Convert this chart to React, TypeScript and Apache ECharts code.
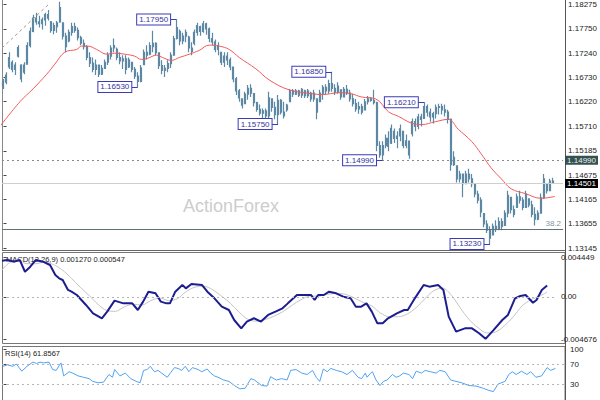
import React, { useEffect, useRef } from 'react';
import * as echarts from 'echarts';

// OHLC bars: [open, close, low, high]
const bars: number[][] = [
  [1.1655,1.1663,1.1649,1.1670],[1.1663,1.1678,1.1659,1.1684],[1.1695,1.1715,1.1691,1.1726],[1.1705,1.1690,1.1684,1.1709],
  [1.1690,1.1699,1.1678,1.1705],[1.1718,1.1736,1.1715,1.1741],[1.1699,1.1670,1.1663,1.1701],[1.1684,1.1699,1.1680,1.1705],
  [1.1701,1.1740,1.1701,1.1747],[1.1740,1.1770,1.1736,1.1778],[1.1770,1.1798,1.1768,1.1805],[1.1798,1.1790,1.1784,1.1809],
  [1.1790,1.1786,1.1778,1.1803],[1.1786,1.1794,1.1774,1.1799],[1.1794,1.1805,1.1782,1.1809],[1.1805,1.1798,1.1793,1.1815],
  [1.1790,1.1772,1.1767,1.1792],[1.1772,1.1782,1.1764,1.1788],[1.1780,1.1788,1.1767,1.1792],[1.1790,1.1820,1.1788,1.1832],
  [1.1788,1.1760,1.1753,1.1788],[1.1760,1.1738,1.1726,1.1767],[1.1750,1.1768,1.1747,1.1774],[1.1768,1.1780,1.1761,1.1788],
  [1.1780,1.1772,1.1767,1.1788],[1.1772,1.1757,1.1751,1.1778],[1.1757,1.1745,1.1741,1.1761],[1.1745,1.1738,1.1732,1.1753],
  [1.1738,1.1715,1.1709,1.1741],[1.1715,1.1703,1.1695,1.1726],[1.1703,1.1690,1.1684,1.1715],[1.1690,1.1699,1.1678,1.1711],
  [1.1699,1.1680,1.1674,1.1699],[1.1680,1.1692,1.1678,1.1699],[1.1692,1.1705,1.1691,1.1711],[1.1705,1.1720,1.1699,1.1726],
  [1.1718,1.1735,1.1711,1.1741],[1.1735,1.1740,1.1726,1.1755],[1.1732,1.1715,1.1709,1.1736],[1.1715,1.1708,1.1701,1.1726],
  [1.1708,1.1712,1.1691,1.1720],[1.1712,1.1690,1.1680,1.1720],[1.1695,1.1710,1.1693,1.1715],[1.1705,1.1690,1.1684,1.1705],
  [1.1690,1.1676,1.1670,1.1695],[1.1676,1.1665,1.1653,1.1684],[1.1665,1.1693,1.1663,1.1699],[1.1700,1.1726,1.1699,1.1732],
  [1.1726,1.1720,1.1711,1.1741],[1.1722,1.1740,1.1720,1.1747],[1.1738,1.1745,1.1726,1.1771],[1.1745,1.1725,1.1720,1.1747],
  [1.1725,1.1698,1.1691,1.1726],[1.1698,1.1688,1.1680,1.1709],[1.1688,1.1692,1.1674,1.1699],[1.1692,1.1702,1.1684,1.1709],
  [1.1702,1.1720,1.1693,1.1726],[1.1720,1.1755,1.1720,1.1761],[1.1755,1.1778,1.1753,1.1795],[1.1770,1.1750,1.1741,1.1774],
  [1.1750,1.1760,1.1743,1.1767],[1.1760,1.1768,1.1747,1.1774],[1.1758,1.1735,1.1726,1.1761],[1.1735,1.1728,1.1720,1.1747],
  [1.1745,1.1768,1.1741,1.1774],[1.1768,1.1782,1.1761,1.1788],[1.1780,1.1770,1.1761,1.1782],[1.1770,1.1786,1.1767,1.1792],
  [1.1786,1.1775,1.1763,1.1788],[1.1775,1.1755,1.1747,1.1778],[1.1755,1.1748,1.1741,1.1767],[1.1748,1.1732,1.1726,1.1753],
  [1.1732,1.1740,1.1720,1.1747],[1.1726,1.1705,1.1699,1.1726],[1.1705,1.1718,1.1695,1.1726],[1.1718,1.1710,1.1699,1.1726],
  [1.1710,1.1695,1.1688,1.1715],[1.1695,1.1670,1.1663,1.1695],[1.1670,1.1645,1.1636,1.1674],[1.1645,1.1630,1.1622,1.1649],
  [1.1628,1.1615,1.1608,1.1628],[1.1618,1.1638,1.1618,1.1643],[1.1638,1.1650,1.1626,1.1657],[1.1650,1.1640,1.1632,1.1659],
  [1.1639,1.1620,1.1612,1.1639],[1.1620,1.1606,1.1601,1.1622],[1.1606,1.1598,1.1593,1.1616],[1.1598,1.1603,1.1587,1.1608],
  [1.1603,1.1592,1.1587,1.1608],[1.1592,1.1630,1.1587,1.1643],[1.1628,1.1610,1.1601,1.1628],[1.1610,1.1595,1.1585,1.1622],
  [1.1595,1.1625,1.1575,1.1636],[1.1625,1.1600,1.1595,1.1628],[1.1600,1.1592,1.1587,1.1622],[1.1605,1.1615,1.1601,1.1618],
  [1.1622,1.1645,1.1622,1.1649],[1.1645,1.1638,1.1632,1.1649],[1.1638,1.1645,1.1636,1.1649],[1.1645,1.1636,1.1632,1.1647],
  [1.1636,1.1648,1.1630,1.1651],[1.1645,1.1635,1.1630,1.1647],[1.1635,1.1645,1.1630,1.1649],[1.1640,1.1628,1.1622,1.1643],
  [1.1628,1.1640,1.1622,1.1647],[1.1628,1.1600,1.1585,1.1628],[1.1622,1.1640,1.1622,1.1647],[1.1640,1.1652,1.1626,1.1657],
  [1.1652,1.1645,1.1636,1.1659],[1.1645,1.1660,1.1639,1.1668],[1.1660,1.1650,1.1643,1.1685],[1.1650,1.1642,1.1636,1.1659],
  [1.1642,1.1655,1.1639,1.1663],[1.1647,1.1632,1.1626,1.1647],[1.1632,1.1648,1.1632,1.1653],[1.1648,1.1640,1.1636,1.1657],
  [1.1640,1.1628,1.1622,1.1647],[1.1628,1.1618,1.1612,1.1639],[1.1618,1.1607,1.1601,1.1628],[1.1607,1.1612,1.1597,1.1622],
  [1.1612,1.1600,1.1595,1.1618],[1.1605,1.1622,1.1605,1.1628],[1.1622,1.1628,1.1616,1.1634],[1.1628,1.1625,1.1622,1.1632],
  [1.1625,1.1620,1.1616,1.1647],[1.1620,1.1530,1.1518,1.1622],[1.1530,1.1510,1.1504,1.1539],[1.1510,1.1530,1.1499,1.1539],
  [1.1530,1.1545,1.1524,1.1553],[1.1545,1.1528,1.1518,1.1560],[1.1535,1.1566,1.1533,1.1574],[1.1560,1.1545,1.1535,1.1566],
  [1.1545,1.1550,1.1524,1.1560],[1.1550,1.1565,1.1539,1.1574],[1.1560,1.1530,1.1524,1.1560],[1.1530,1.1540,1.1524,1.1553],
  [1.1539,1.1510,1.1502,1.1539],[1.1555,1.1580,1.1549,1.1587],[1.1580,1.1570,1.1560,1.1587],[1.1570,1.1590,1.1564,1.1597],
  [1.1590,1.1585,1.1570,1.1597],[1.1587,1.1612,1.1587,1.1621],[1.1612,1.1600,1.1591,1.1616],[1.1600,1.1590,1.1580,1.1608],
  [1.1590,1.1597,1.1576,1.1601],[1.1597,1.1610,1.1587,1.1616],[1.1610,1.1612,1.1595,1.1618],[1.1612,1.1605,1.1595,1.1618],
  [1.1605,1.1600,1.1591,1.1616],[1.1600,1.1585,1.1576,1.1605],[1.1585,1.1490,1.1477,1.1587],[1.1490,1.1505,1.1487,1.1518],
  [1.1487,1.1460,1.1452,1.1487],[1.1460,1.1470,1.1452,1.1477],[1.1470,1.1450,1.1421,1.1470],[1.1450,1.1470,1.1450,1.1477],
  [1.1470,1.1460,1.1452,1.1481],[1.1460,1.1450,1.1442,1.1470],[1.1450,1.1428,1.1421,1.1450],[1.1428,1.1415,1.1408,1.1435],
  [1.1415,1.1390,1.1379,1.1421],[1.1387,1.1365,1.1358,1.1387],[1.1365,1.1352,1.1346,1.1373],[1.1352,1.1335,1.1323,1.1360],
  [1.1342,1.1360,1.1342,1.1366],[1.1360,1.1355,1.1348,1.1373],[1.1355,1.1370,1.1352,1.1379],[1.1370,1.1360,1.1352,1.1377],
  [1.1362,1.1388,1.1362,1.1394],[1.1388,1.1425,1.1379,1.1435],[1.1421,1.1395,1.1387,1.1421],[1.1395,1.1385,1.1379,1.1404],
  [1.1400,1.1422,1.1400,1.1429],[1.1422,1.1415,1.1408,1.1435],[1.1415,1.1400,1.1394,1.1421],[1.1400,1.1428,1.1400,1.1435],
  [1.1418,1.1405,1.1400,1.1418],[1.1405,1.1385,1.1379,1.1414],[1.1385,1.1375,1.1362,1.1400],[1.1375,1.1388,1.1373,1.1394],
  [1.1388,1.1420,1.1387,1.1429],[1.1420,1.1460,1.1418,1.1470],[1.1450,1.1435,1.1429,1.1450],[1.1435,1.1455,1.1435,1.1460],
  [1.1455,1.14501,1.1450,1.1462]
];
const emptySlots = 3; // chart shift on the right

// moving average: [bar index, price]
const maLine: number[][] = [
  [-1.2,1.1570],[5.5,1.1622],[9.9,1.1649],[14.5,1.1680],[17.2,1.1701],[20.5,1.1726],[24.5,1.1732],[26.2,1.1739],
  [28.2,1.1739],[31.2,1.1732],[34.6,1.1722],[37.2,1.1724],[40.6,1.1722],[43.9,1.1718],[46.2,1.1711],[48.2,1.1713],
  [51.3,1.1720],[53.3,1.1715],[56.3,1.1709],[58.9,1.1715],[62.3,1.1722],[65.6,1.1730],[68.9,1.1741],[72.3,1.1739],
  [75.6,1.1732],[79.0,1.1715],[84.6,1.1691],[89.0,1.1668],[95.7,1.1647],[103.3,1.1639],[106.7,1.1637],[112.4,1.1641],
  [116.4,1.1639],[120.0,1.1632],[124.7,1.1628],[129.0,1.1601],[132.4,1.1591],[136.7,1.1577],[140.1,1.1574],[144.7,1.1580],
  [149.0,1.1585],[152.4,1.1564],[156.8,1.1539],[160.1,1.1512],[163.4,1.1483],[166.8,1.1460],[170.1,1.1439],[174.8,1.1429],
  [180.1,1.1419],[184.8,1.1423]
];

const macdLine: number[][] = [
  [-0.5,0.00404],[1.3,0.00412],[3.7,0.00393],[5.5,0.00412],[7.3,0.00281],[9.1,0.00337],[11.0,0.00412],[13.4,0.00393],
  [15.8,0.00356],[17.6,0.00245],[18.9,0.00208],[20.1,0.00189],[21.9,0.00078],[23.1,0.00059],[24.9,0.00022],[28.0,-0.00089],
  [30.4,-0.00182],[33.4,-0.00237],[35.2,-0.00163],[37.7,-0.00041],[40.7,-0.00071],[43.7,-0.00071],[45.6,-0.00145],[47.4,-0.00052],
  [49.2,0.00059],[51.6,0.00041],[53.4,-0.00052],[55.3,-0.00071],[56.5,-0.00071],[58.3,0.00059],[60.7,0.00133],[61.9,0.00096],
  [63.8,0.00144],[67.4,0.00133],[69.2,0.00059],[71.6,-0.00015],[74.1,-0.00108],[76.5,-0.00145],[78.3,-0.00256],[80.7,-0.00349],
  [82.6,-0.00274],[85.0,-0.00237],[87.4,-0.00274],[89.8,-0.00200],[92.3,-0.00163],[94.7,-0.00126],[96.5,-0.00071],[99.6,0.00022],
  [102.0,0.00022],[104.4,0.00022],[105.6,-0.00034],[106.8,0.00022],[108.7,0.00022],[110.5,0.00059],[112.9,0.00041],[115.3,0.00003],
  [117.8,-0.00015],[119.6,-0.00108],[121.4,-0.00108],[123.2,-0.00071],[125.0,-0.00163],[126.9,-0.00293],[128.7,-0.00293],[130.5,-0.00237],
  [133.5,-0.00182],[136.0,-0.00145],[137.2,-0.00145],[139.6,-0.00015],[142.6,0.00133],[144.5,0.00115],[147.5,0.00133],[149.3,0.00078],
  [151.1,-0.00219],[153.6,-0.00386],[156.6,-0.00349],[159.0,-0.00349],[161.4,-0.00404],[163.6,-0.00466],[166.3,-0.00368],[169.3,-0.00256],
  [171.2,-0.00200],[173.6,-0.00015],[175.4,0.00011],[177.2,0.00022],[179.7,-0.00064],[180.9,-0.00034],[182.7,0.00078],[184.5,0.00127]
];

const signalLine: number[][] = [
  [-0.5,0.0030],[2,0.0038],[5,0.0040],[8,0.0037],[11,0.0037],[14,0.0039],[17,0.0036],[20,0.0030],[23,0.0021],[26,0.0011],
  [29,0.0002],[32,-0.0008],[35,-0.0015],[38,-0.0016],[41,-0.0011],[44,-0.0008],[47,-0.0009],[50,-0.0004],[53,-0.0001],[56,-0.0004],
  [59,-0.0002],[62,0.0006],[65,0.0011],[68,0.0012],[71,0.0008],[74,0.0001],[77,-0.0007],[80,-0.0017],[83,-0.0025],[86,-0.0027],
  [89,-0.0025],[92,-0.0021],[95,-0.0016],[98,-0.0009],[101,-0.0003],[104,0.0001],[107,0.0001],[110,0.0003],[113,0.0004],[116,0.0003],
  [119,-0.0001],[122,-0.0006],[125,-0.0010],[128,-0.0018],[131,-0.0022],[134,-0.0022],[137,-0.0019],[140,-0.0012],[143,-0.0002],[146,0.0007],
  [149,0.0010],[152,0.0002],[155,-0.0012],[158,-0.0025],[161,-0.0034],[164,-0.0040],[167,-0.0039],[170,-0.0032],[173,-0.0022],[176,-0.0010],
  [179,-0.0003],[182,0.0001],[184.5,0.000547]
];

const rsiLine: number[][] = [
  [-0.2,66.2],[1.3,68.9],[3.1,66.2],[4.3,70.5],[6.1,56.5],[7.9,66.2],[9.8,74.3],[11.0,71.6],[12.2,74.3],[13.4,72.7],
  [15.2,74.3],[16.4,59.7],[17.6,58.1],[18.9,70.5],[19.2,72.7],[20.1,47.3],[21.9,55.4],[23.1,52.7],[24.9,47.3],[26.7,44.6],
  [28.6,41.9],[29.8,36.5],[31.6,33.8],[33.4,34.9],[35.2,50.0],[36.4,44.6],[37.1,59.7],[38.9,47.3],[40.7,52.7],[42.5,41.9],
  [44.3,36.5],[45.6,33.8],[46.8,58.1],[48.0,59.7],[49.0,66.2],[50.4,55.4],[51.6,58.1],[52.8,52.7],[54.7,44.6],[55.9,54.3],
  [57.1,63.5],[58.3,61.9],[59.5,58.1],[60.7,66.2],[61.9,55.4],[63.1,63.5],[65.0,59.7],[66.2,55.4],[68.0,60.8],[69.2,52.7],
  [70.4,47.3],[71.6,44.6],[73.5,39.2],[75.3,36.5],[77.1,28.4],[78.9,21.9],[80.7,23.0],[82.6,41.9],[83.8,39.2],[85.0,33.8],
  [86.2,28.4],[88.0,27.3],[89.2,45.7],[91.1,39.2],[92.9,41.9],[94.7,39.2],[95.9,58.1],[97.7,59.7],[99.6,52.7],[101.4,50.0],
  [103.2,58.1],[104.4,44.6],[105.6,36.5],[106.8,60.8],[108.1,55.4],[109.3,61.9],[111.1,58.1],[112.9,55.4],[114.7,50.0],[116.5,58.1],
  [118.4,44.6],[119.6,41.9],[120.8,52.7],[121.4,44.6],[122.6,52.7],[123.2,55.4],[124.4,39.2],[125.7,28.4],[126.9,36.5],[128.1,39.2],
  [129.9,50.0],[131.1,44.6],[132.3,47.3],[133.5,52.7],[135.4,50.0],[136.6,41.9],[137.8,56.5],[139.6,52.7],[140.8,58.1],[142.6,55.4],
  [144.5,52.7],[145.7,58.1],[147.5,55.4],[149.3,39.2],[151.1,36.5],[153.0,33.8],[155.4,28.4],[157.8,27.3],[160.2,23.0],[162.1,18.7],
  [163.6,16.5],[165.1,31.1],[167.5,36.5],[168.7,50.0],[169.9,55.4],[171.2,50.0],[173.0,56.5],[174.8,50.0],[176.0,55.4],[177.8,44.6],
  [179.7,47.3],[181.5,63.5],[182.7,58.1],[184.3,61.8567]
];

const priceTicks = [1.13145,1.13655,1.14165,1.14675,1.15185,1.15710,1.16220,1.16730,1.17240,1.17750,1.18275];
const macdTicks = [-0.004676, 0, 0.004449];
const rsiTicks = [30, 70, 100];

// swing highs / lows labelled on the chart: [bar index, price]
const pivots: number[][] = [
  [58,1.1795],[45,1.1653],[92,1.1575],[110,1.1685],[127,1.1499],[141,1.1621],[163,1.1323]
];
const resistanceLevel = 1.1499;
const lastPrice = 1.14501;
const fibLevel = 1.1354;
const fibText = '38.2';
const trendLine: number[][] = [[-0.5,1.1735],[15.5,1.1829]];

const FONT = '"Liberation Sans", Arial, sans-serif';
const BAR = '#5d88a3';
const BOX = '#3b3bb8';

export default function App() {
  const ref = useRef<HTMLDivElement>(null);
  useEffect(() => {
    const chart = echarts.init(ref.current!, null, { renderer: 'svg' });
    const N = bars.length + emptySlots;
    const cats = Array.from({ length: N }, (_, i) => String(i));
    const macdLast = macdLine[macdLine.length - 1][1];
    const sigLast = signalLine[signalLine.length - 1][1];
    const rsiLast = rsiLine[rsiLine.length - 1][1];
    const axisLab = { fontSize: 8, color: '#222', fontFamily: FONT, margin: 5 };

    const option: any = {
      animation: false,
      backgroundColor: '#fff',
      textStyle: { fontFamily: FONT },
      grid: [
        { left: 2, right: 35, top: 0, height: 248 },
        { left: 2, right: 35, top: 257, height: 82 },
        { left: 2, right: 35, top: 349, height: 57.5 },
      ],
      xAxis: [
        { type: 'category', gridIndex: 0, data: cats, show: false, boundaryGap: true },
        { type: 'value', gridIndex: 0, min: -0.5, max: N - 0.5, show: false },
        { type: 'value', gridIndex: 1, min: -0.5, max: N - 0.5, show: false },
        { type: 'value', gridIndex: 2, min: -0.5, max: N - 0.5, show: false },
      ],
      yAxis: [
        {
          type: 'value', gridIndex: 0, position: 'right', min: 1.13145, max: 1.18296,
          axisLine: { show: false }, splitLine: { show: false },
          axisTick: { show: true, length: 3, customValues: priceTicks, lineStyle: { color: '#444' } },
          axisLabel: { ...axisLab, customValues: priceTicks, formatter: (v: number) => v.toFixed(5) },
        },
        {
          type: 'value', gridIndex: 1, position: 'right', min: -0.004676, max: 0.004449,
          axisLine: { show: false }, splitLine: { show: false },
          axisTick: { show: true, length: 3, customValues: macdTicks, lineStyle: { color: '#444' } },
          axisLabel: { ...axisLab, customValues: macdTicks, formatter: (v: number) => (v === 0 ? '0.00' : v.toFixed(6)) },
        },
        {
          type: 'value', gridIndex: 2, position: 'right', min: 0, max: 100,
          axisLine: { show: false }, splitLine: { show: false },
          axisTick: { show: true, length: 3, customValues: rsiTicks, lineStyle: { color: '#444' } },
          axisLabel: { ...axisLab, customValues: rsiTicks, formatter: (v: number) => String(v) },
        },
      ],
      series: [
        {
          type: 'candlestick', xAxisIndex: 0, yAxisIndex: 0, data: bars, barWidth: 1.5, z: 2,
          itemStyle: { color: BAR, color0: BAR, borderColor: BAR, borderColor0: BAR, borderWidth: 1.2 },
        },
        {
          type: 'line', xAxisIndex: 1, yAxisIndex: 0, data: maLine, smooth: 0.4, showSymbol: false,
          lineStyle: { color: '#f25a5a', width: 1 }, z: 3,
          markLine: {
            silent: true, symbol: ['none', 'none'], label: { show: false }, precision: 5,
            data: [
              { yAxis: resistanceLevel, lineStyle: { color: '#8a8a8a', type: [2, 3], width: 1 },
                label: { show: true, position: 'end', distance: 2, formatter: resistanceLevel.toFixed(5), color: '#e8f0f0', backgroundColor: '#34504f', padding: [1, 2, 0, 2], fontSize: 8, fontFamily: FONT } },
              { yAxis: lastPrice, lineStyle: { color: '#cfcfcf', type: 'solid', width: 1 },
                label: { show: true, position: 'end', distance: 2, formatter: lastPrice.toFixed(5), color: '#fff', backgroundColor: '#000', padding: [1, 2, 0, 2], fontSize: 8, fontFamily: FONT } },
              { yAxis: fibLevel, lineStyle: { color: '#5e7475', type: 'solid', width: 1 },
                label: { show: true, position: 'insideEndTop', distance: 2, formatter: fibText, color: '#7f95a3', fontSize: 8, fontFamily: FONT } },
              [{ coord: trendLine[0], lineStyle: { color: '#9a9a9a', type: [3, 3], width: 1 } }, { coord: trendLine[1] }],
              ...pivots.map(p => [
                { coord: [p[0] - 2, p[1]], lineStyle: { color: BOX, type: 'solid', width: 1 } },
                { coord: [p[0], p[1]] },
              ]),
            ],
          },
          markPoint: {
            silent: true,
            data: pivots.map(p => ({
              coord: [p[0], p[1]], symbol: 'circle', symbolSize: 1, itemStyle: { color: 'rgba(0,0,0,0)' },
              label: {
                show: true, position: 'left', distance: 6, formatter: p[1].toFixed(5),
                backgroundColor: '#fff', borderColor: BOX, borderWidth: 1, padding: [1, 2, 0, 2],
                color: '#3434a0', fontSize: 8, lineHeight: 9, fontFamily: FONT,
              },
            })),
          },
        },
        {
          type: 'line', xAxisIndex: 2, yAxisIndex: 1, data: signalLine, showSymbol: false, smooth: 0.3,
          lineStyle: { color: '#c4c4c4', width: 1 }, z: 2,
          markLine: { silent: true, symbol: ['none', 'none'], label: { show: false },
            data: [{ yAxis: 0 }], lineStyle: { color: '#b5b5b5', type: [2, 3], width: 1 } },
        },
        {
          type: 'line', xAxisIndex: 2, yAxisIndex: 1, data: macdLine, showSymbol: false,
          lineStyle: { color: '#1d1d92', width: 2 }, z: 3,
        },
        {
          type: 'line', xAxisIndex: 3, yAxisIndex: 2, data: rsiLine, showSymbol: false,
          lineStyle: { color: '#4fa3f2', width: 1 },
          markLine: { silent: true, symbol: ['none', 'none'], label: { show: false },
            data: [{ yAxis: 70 }, { yAxis: 30 }], lineStyle: { color: '#b5b5b5', type: [2, 3], width: 1 } },
        },
      ],
      graphic: [
        { type: 'line', shape: { x1: 2.5, y1: -2, x2: 2.5, y2: 250.5 }, style: { stroke: '#888', lineWidth: 1 }, silent: true },
        { type: 'line', shape: { x1: 2, y1: 250.5, x2: 565, y2: 250.5 }, style: { stroke: '#666', lineWidth: 1 }, silent: true },
        { type: 'rect', shape: { x: 2.5, y: 252.5, width: 562.5, height: 91 }, style: { fill: 'none', stroke: '#777', lineWidth: 1 }, silent: true },
        { type: 'rect', shape: { x: 2.5, y: 346.5, width: 562.5, height: 60 }, style: { fill: 'none', stroke: '#777', lineWidth: 1 }, silent: true },
        { type: 'line', shape: { x1: 565.5, y1: 0, x2: 565.5, y2: 400 }, style: { stroke: '#555', lineWidth: 1 }, silent: true },
        { type: 'text', left: 183, top: 197, silent: true,
          style: { text: 'ActionForex', fill: '#cdcdcd', fontSize: 18, fontFamily: FONT } },
        { type: 'text', left: 6, top: 255, silent: true,
          style: { text: `MACD(12,26,9) ${macdLast.toFixed(6)} ${sigLast.toFixed(6)}`, fill: '#222', fontSize: 7.5, fontFamily: FONT } },
        { type: 'text', left: 5, top: 349, silent: true,
          style: { text: `RSI(14) ${rsiLast.toFixed(4)}`, fill: '#222', fontSize: 7.5, fontFamily: FONT } },
      ],
    };
    chart.setOption(option);
    return () => chart.dispose();
  }, []);
  return <div ref={ref} style={{ position: 'fixed', left: 0, top: 0, width: 600, height: 400, background: '#fff' }} />;
}
